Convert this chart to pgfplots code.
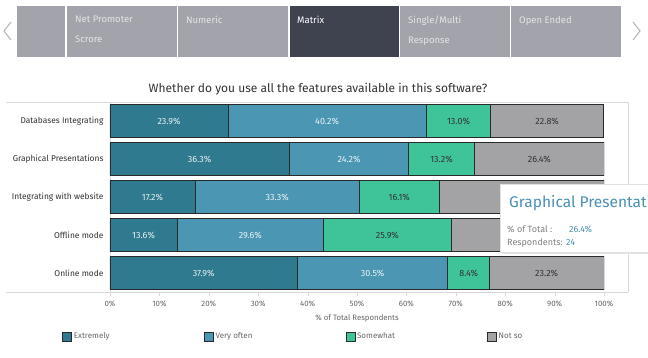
\documentclass[border=0pt]{standalone}
\usepackage{pgfplots}
\pgfplotsset{compat=1.18}
\usepackage{pgfplotstable}
\usepackage{fontspec}
\setmainfont{Fira Sans}
\definecolor{cExt}{HTML}{2F7A8F}
\definecolor{cVery}{HTML}{4B96B2}
\definecolor{cSome}{HTML}{3EC498}
\definecolor{cNot}{HTML}{A3A3A6}
\definecolor{tabgray}{HTML}{A3A4AB}
\definecolor{tabdark}{HTML}{3F4350}
\definecolor{tabtext}{HTML}{E4E4E8}
\definecolor{txt}{HTML}{333333}
\definecolor{ticktxt}{HTML}{666666}
\definecolor{lightline}{HTML}{D9D9D9}
\definecolor{barline}{HTML}{2A2A2A}
\definecolor{tipblue}{HTML}{4A90B8}

% segment values (percent of total respondents)
\pgfplotstableread{
row ext very some not
0 23.9 40.2 13.0 22.8
1 36.3 24.2 13.2 26.4
2 17.2 33.3 16.1 33.4
3 13.6 29.6 25.9 30.9
4 37.9 30.5 8.4 23.2
}\data
% label positions: middle of each segment, and the value shown
\pgfplotstableread{
row mext ext mvery very msome some mnot not
0 11.95 23.9 43.95 40.2 70.55 13.0 88.50 22.8
1 18.15 36.3 48.40 24.2 67.10 13.2 86.90 26.4
2 8.60 17.2 33.85 33.3 58.55 16.1 83.30 33.4
3 6.80 13.6 28.40 29.6 56.15 25.9 84.55 30.9
4 18.95 37.9 53.15 30.5 72.60 8.4 88.40 23.2
}\labels

\begin{document}
\begin{tikzpicture}[x=1pt,y=1pt]
\useasboundingbox (0,0) rectangle (648,357);
\fill[white] (0,0) rectangle (648,357);
% tabs
\fill[tabgray] (17,300) rectangle (65,351);
\fill[tabgray] (67,300) rectangle (177,351);
\fill[tabgray] (178,300) rectangle (288,351);
\fill[tabdark] (290,300) rectangle (399,351);
\fill[tabgray] (400,300) rectangle (510,351);
\fill[tabgray] (511,300) rectangle (621,351);
\begin{scope}[every node/.style={anchor=north west, inner sep=0pt, align=left, font=\fontsize{9.5}{20}\selectfont}]
\node[text=tabtext] at (75,341) {Net Promoter\\Scrore};
\node[text=tabtext] at (186,341) {Numeric};
\node[text=white] at (297,341) {Matrix};
\node[text=tabtext] at (408,341) {Single/Multi\\Response};
\node[text=tabtext] at (519,341) {Open Ended};
\end{scope}
\draw[gray!60, line width=1pt] (11,335)--(4,326)--(11,317);
\draw[gray!60, line width=1pt] (633,335)--(640,326)--(633,317);
% title
\node[text=txt, font=\fontsize{12}{14}\selectfont] at (318,268) {Whether do you use all the features available in this software?};
% frame
\draw[lightline, line width=0.6pt] (6,255)--(628,255);
\draw[lightline, line width=0.6pt] (6,65)--(628,65);
\draw[lightline, line width=0.6pt] (110,65)--(110,255);
\draw[lightline, line width=0.6pt] (628,65)--(628,255);
\begin{axis}[
  at={(110pt,255pt)}, anchor=north west,
  scale only axis, width=494pt, height=190pt,
  xbar stacked, bar width=33pt,
  xmin=0, xmax=100, ymin=-0.5, ymax=4.5, y dir=reverse,
  axis line style={draw=none},
  ytick={0,1,2,3,4},
  yticklabels={Databases Integrating, Graphical Presentations, Integrating with website, Offline mode, Online mode},
  ytick style={draw=none},
  y tick label style={font=\fontsize{8.4}{10}\selectfont, text=txt, xshift=1pt},
  xtick={0,10,...,100},
  xticklabel={\pgfmathprintnumber{\tick}\%},
  /pgf/number format/assume math mode=true,
  x tick label style={font=\fontsize{7.8}{9}\selectfont, text=ticktxt, yshift=-1pt},
  xtick style={draw=lightline}, tick align=outside, xtick pos=bottom, major tick length=4pt,
  xlabel={\% of Total Respondents},
  xlabel style={font=\fontsize{7.8}{9}\selectfont, text=ticktxt, yshift=-1pt},
  legend image code/.code={\draw[#1, draw=barline, line width=0.6pt] (0pt,-4.5pt) rectangle (9pt,4.5pt);},
  legend columns=4,
  legend style={at={(axis description cs:-0.103,-0.235)}, anchor=west, draw=none, fill=none, font=\fontsize{8}{9}\selectfont, text=ticktxt, legend cell align=left},
]
\addplot[fill=cExt, draw=barline, line width=0.8pt] table[x=ext, y=row]{\data};
\addplot[fill=cVery, draw=barline, line width=0.8pt] table[x=very, y=row]{\data};
\addplot[fill=cSome, draw=barline, line width=0.8pt] table[x=some, y=row]{\data};
\addplot[fill=cNot, draw=barline, line width=0.8pt] table[x=not, y=row]{\data};
\legend{\makebox[128pt][l]{Extremely}, \makebox[128pt][l]{Very often}, \makebox[128pt][l]{Somewhat}, Not so}
\end{axis}
% labels in the middle of each segment
\begin{axis}[
  at={(110pt,255pt)}, anchor=north west,
  scale only axis, width=494pt, height=190pt,
  xmin=0, xmax=100, ymin=-0.5, ymax=4.5, y dir=reverse,
  hide axis,
  point meta=explicit,
  /pgf/number format/assume math mode=true,
  nodes near coords={\pgfmathprintnumber[fixed,fixed zerofill,precision=1,assume math mode=true]{\pgfplotspointmeta}\%},
  every node near coord/.append style={anchor=center, inner sep=0pt, font=\fontsize{9}{10}\selectfont},
]
\addplot[only marks, mark=none, draw=none, nodes near coords style={text=white!88!cExt}] table[x=mext, y=row, meta=ext]{\labels};
\addplot[only marks, mark=none, draw=none, nodes near coords style={text=white!88!cVery}] table[x=mvery, y=row, meta=very]{\labels};
\addplot[only marks, mark=none, draw=none, nodes near coords style={text=txt}] table[x=msome, y=row, meta=some]{\labels};
% rows 2 and 3 of this series lie under the tooltip in the reference
\addplot[only marks, mark=none, draw=none, skip coords between index={2}{4}, nodes near coords style={text=txt}] table[x=mnot, y=row, meta=not]{\labels};
\end{axis}
% tooltip
\fill[black!10] (502,103) rectangle (660,171);
\fill[white] (500,105) rectangle (660,173);
\draw[black!12, line width=0.5pt] (500,105) rectangle (660,173);
\node[anchor=base west, inner sep=0pt, text=tipblue, font=\fontsize{15.5}{17}\selectfont] at (509,150) {Graphical Presentations};
\node[anchor=base west, inner sep=0pt, text=gray, font=\fontsize{9}{10}\selectfont] at (507,125) {\% of Total :};
\node[anchor=base west, inner sep=0pt, text=tipblue, font=\fontsize{9}{10}\selectfont] at (569,125) {26.4\%};
\node[anchor=base west, inner sep=0pt, text=gray, font=\fontsize{9}{10}\selectfont] at (507,112) {Respondents:};
\node[anchor=base west, inner sep=0pt, text=tipblue, font=\fontsize{9}{10}\selectfont] at (566,112) {24};
\end{tikzpicture}
\end{document}
